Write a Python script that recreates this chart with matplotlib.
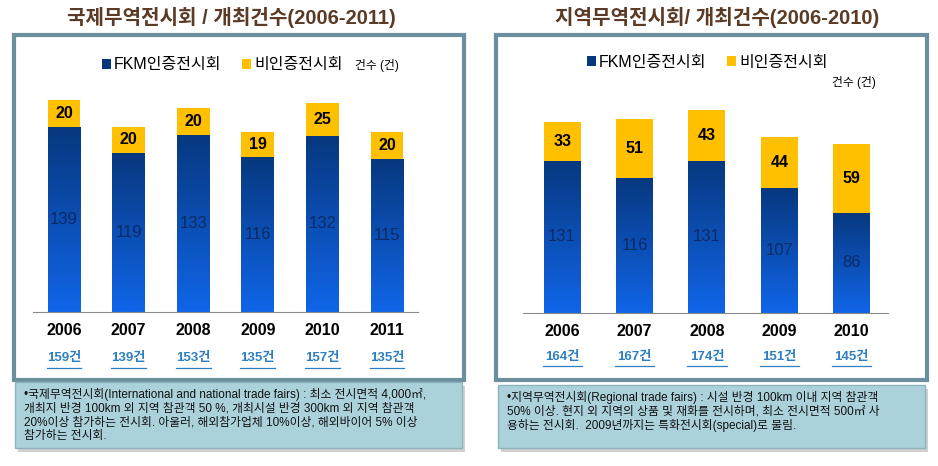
import numpy as np
import matplotlib
matplotlib.use("Agg")
import matplotlib.pyplot as plt
from matplotlib.patches import Rectangle
from matplotlib.colors import LinearSegmentedColormap

# 라틴 문자는 Arial 계열, 한글은 Noto CJK 로 대체
plt.rcParams['font.family'] = ['Liberation Sans', 'Noto Sans CJK KR', 'DejaVu Sans']

# 국제무역전시회 (2006-2011)
years_int = ['2006', '2007', '2008', '2009', '2010', '2011']
fkm_int = [139, 119, 133, 116, 132, 115]
non_int = [20, 20, 20, 19, 25, 20]
total_int = ['159건', '139건', '153건', '135건', '157건', '135건']

# 지역무역전시회 (2006-2010)
years_reg = ['2006', '2007', '2008', '2009', '2010']
fkm_reg = [131, 116, 131, 107, 86]
non_reg = [33, 51, 43, 44, 59]
total_reg = ['164건', '167건', '174건', '151건', '145건']

title_int = '국제무역전시회 / 개최건수(2006-2011)'
title_reg = '지역무역전시회/ 개최건수(2006-2010)'
note_int = ('•국제무역전시회(International and national trade fairs) : 최소 전시면적 4,000㎡,\n'
            '개최지 반경 100km 외 지역 참관객 50 %, 개최시설 반경 300km 외 지역 참관객\n'
            '20%이상 참가하는 전시회. 아울러, 해외참가업체 10%이상, 해외바이어 5% 이상\n'
            '참가하는 전시회.')
note_reg = ('•지역무역전시회(Regional trade fairs) : 시설 반경 100km 이내 지역 참관객\n'
            '50% 이상. 현지 외 지역의 상품 및 재화를 전시하며, 최소 전시면적 500㎡ 사\n'
            '용하는 전시회.  2009년까지는 특화전시회(special)로 불림.')

W, H = 938, 466
BLUE_TOP = '#07387f'
BLUE_BOT = '#1065e8'
YELLOW = '#ffc000'
FRAME = '#6b8f9d'
grad = LinearSegmentedColormap.from_list('g', [BLUE_BOT, BLUE_TOP])

fig = plt.figure(figsize=(W / 100, H / 100), dpi=100)
fig.patch.set_facecolor('white')


def px(x, y, w, h):
    # 픽셀 박스(왼쪽 위 기준) -> figure 비율
    return [x / W, 1 - (y + h) / H, w / W, h / H]


def frame(x0, x1):
    fig.add_artist(Rectangle((x0 / W, 1 - 380 / H), (x1 - x0) / W, 345 / H,
                             transform=fig.transFigure, fill=False,
                             edgecolor=FRAME, linewidth=3, zorder=0))


def note_box(x0, x1, y0, y1, text):
    fig.add_artist(Rectangle(((x0 + 3) / W, 1 - (y1 + 4) / H), (x1 - x0) / W, (y1 - y0) / H,
                             transform=fig.transFigure, facecolor='#d0d0d0',
                             edgecolor='none', zorder=2))
    fig.add_artist(Rectangle((x0 / W, 1 - y1 / H), (x1 - x0) / W, (y1 - y0) / H,
                             transform=fig.transFigure, facecolor='#abd2da',
                             edgecolor='#8fb3bd', linewidth=1, zorder=3))
    fig.text((x0 + 9) / W, 1 - (y0 + 6) / H, text, fontsize=8.5, va='top', ha='left',
             linespacing=1.17, color='#111111', zorder=4)


def chart(rect, years, fkm, non, totals, xpad, width, ytop):
    ax = fig.add_axes(rect)
    x = np.arange(len(years))
    b1 = ax.bar(x, fkm, width, color=BLUE_TOP, label='FKM인증전시회', zorder=2)
    b2 = ax.bar(x, non, width, bottom=fkm, color=YELLOW, label='비인증전시회', zorder=2)
    for bar in b1:
        x0, y0 = bar.get_x(), bar.get_y()
        im = ax.imshow(np.linspace(0, 1, 100).reshape(-1, 1), cmap=grad, aspect='auto',
                       extent=(x0, x0 + bar.get_width(), y0, y0 + bar.get_height()),
                       origin='lower', zorder=2.5)
        im.set_clip_path(bar)
    ax.bar_label(b1, label_type='center', color='#0b2a66', fontsize=12, zorder=4)
    ax.bar_label(b2, label_type='center', color='black', fontsize=11.5,
                 fontweight='bold', zorder=4)
    ax.set_xlim(-xpad[0], len(years) - 1 + xpad[1])
    ax.set_ylim(0, ytop)
    for s in ['top', 'right', 'left']:
        ax.spines[s].set_visible(False)
    ax.spines['bottom'].set_color('#8a8a8a')
    ax.set_yticks([])
    ax.set_xticks(x, years, fontsize=11.5, fontweight='bold')
    ax.tick_params(axis='x', length=0, pad=8)
    ax.patch.set_alpha(0)
    for xi, t in zip(x, totals):
        ax.text(xi, -0.205, t, transform=ax.get_xaxis_transform(), ha='center',
                va='center', fontsize=9.5, color='#2d7fc1', fontweight='bold', clip_on=False)
        ax.plot([xi - 0.27, xi + 0.27], [-0.25, -0.25], transform=ax.get_xaxis_transform(),
                color='#2d7fc1', lw=0.9, clip_on=False)
    return ax, b1, b2


frame(14, 464)
frame(496, 927)

ax1, h1, h2 = chart(px(33, 90, 385, 222), years_int, fkm_int, non_int, total_int,
                    (0.48, 0.48), 0.51, 166.5)
ax2, g1, g2 = chart(px(523, 100, 365, 213), years_reg, fkm_reg, non_reg, total_reg,
                    (0.54, 0.5), 0.51, 183)

fig.text(231 / W, 1 - 18 / H, title_int, ha='center', va='center', fontsize=14.5,
         fontweight='bold', color='#5b3a26')
fig.text(717 / W, 1 - 18 / H, title_reg, ha='center', va='center', fontsize=14.5,
         fontweight='bold', color='#5b3a26')

leg_kw = dict(ncol=2, frameon=False, fontsize=11.5, handlelength=0.55, handleheight=0.55,
              handletextpad=0.2, columnspacing=1.3, loc='center left',
              borderpad=0, borderaxespad=0)
fig.legend([h1, h2], ['FKM인증전시회', '비인증전시회'],
           bbox_to_anchor=(102 / W, 1 - 65 / H), **leg_kw)
fig.legend([g1, g2], ['FKM인증전시회', '비인증전시회'],
           bbox_to_anchor=(587 / W, 1 - 62 / H), **leg_kw)
fig.text(355 / W, 1 - 66 / H, '건수 (건)', fontsize=8.5, va='center', ha='left')
fig.text(832 / W, 1 - 83 / H, '건수 (건)', fontsize=8.5, va='center', ha='left')

note_box(15, 462, 382, 448, note_int)
note_box(498, 925, 385, 448, note_reg)

fig.savefig('out.png', dpi=100, facecolor='white')
